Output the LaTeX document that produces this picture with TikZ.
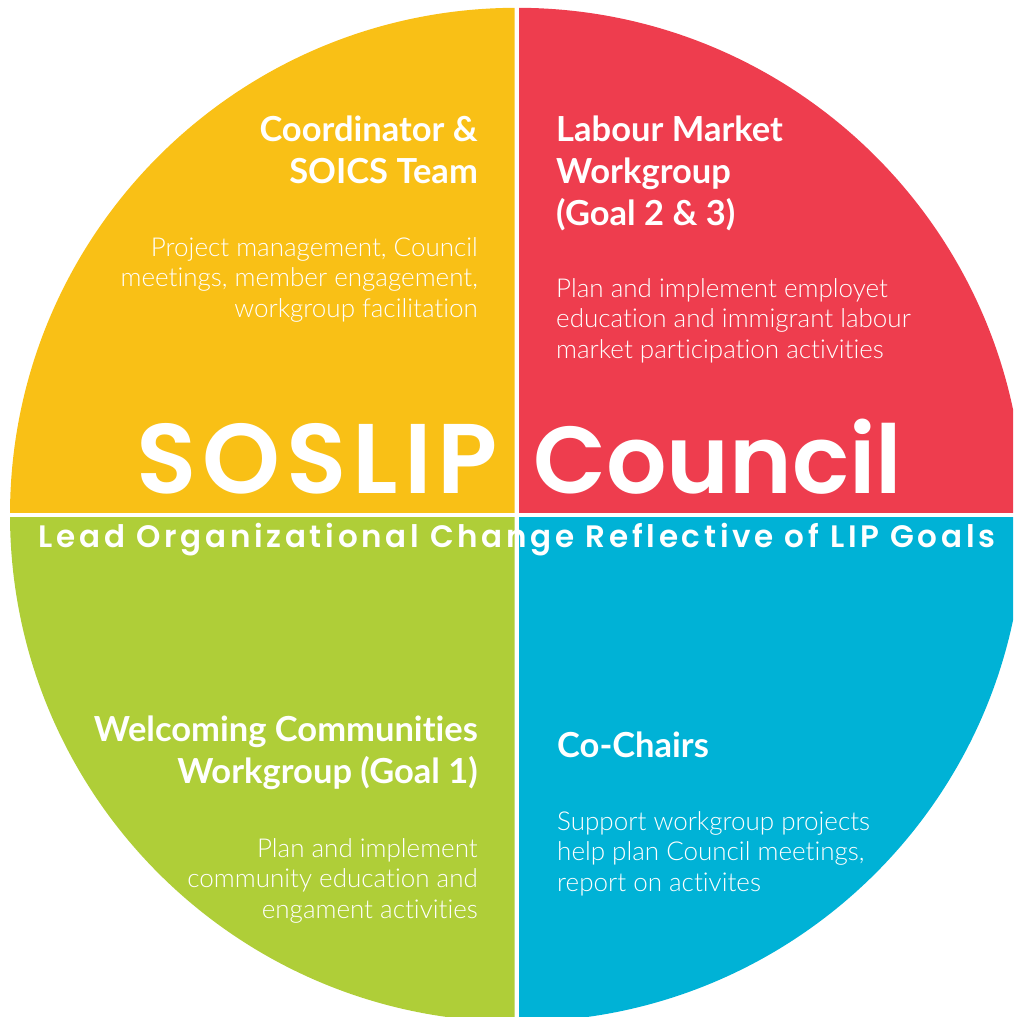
\documentclass[tikz,border=0pt]{standalone}
\usepackage{fontspec}
\setmainfont{Lato}[Ligatures=NoCommon]
\newfontfamily\titlefont{Poppins SemiBold}
\newfontfamily\widetitlefont{Poppins SemiBold}[LetterSpace=6]
\newfontfamily\tagfont{Poppins SemiBold}[LetterSpace=12]
\newfontfamily\lightfont{Lato Light}[Ligatures=NoCommon]
\usetikzlibrary{positioning}
\definecolor{soyellow}{RGB}{249,192,22}
\definecolor{sored}{RGB}{238,61,78}
\definecolor{sogreen}{RGB}{175,206,56}
\definecolor{soblue}{RGB}{0,178,214}

\begin{document}
\begin{tikzpicture}[x=1pt, y=-1pt,
  heading/.style={text=white, inner sep=0pt, font=\bfseries\fontsize{34.5}{42}\selectfont},
  blurb/.style={text=white, inner sep=0pt, font=\lightfont\fontsize{26}{30.5}\selectfont},
  bigword/.style={text=white, inner sep=0pt, font=\titlefont\fontsize{95}{95}\selectfont},
  tagline/.style={text=white, inner sep=0pt, font=\tagfont\fontsize{31}{31}\selectfont}
]
\useasboundingbox (0,0) rectangle (1013,1017);
\coordinate (ctr) at (517,514.8);

%% Four quadrants with a white cross between them
\begin{scope}
  \clip (0,0) rectangle (514.5,512.5);
  \fill[soyellow] (ctr) circle[radius=507];
\end{scope}
\begin{scope}
  \clip (519,0) rectangle (1013,512.5);
  \fill[sored] (ctr) circle[radius=507];
\end{scope}
\begin{scope}
  \clip (0,517) rectangle (514.5,1017);
  \fill[sogreen] (ctr) circle[radius=507];
\end{scope}
\begin{scope}
  \clip (519,517) rectangle (1013,1017);
  \fill[soblue] (ctr) circle[radius=507];
\end{scope}

%% Top left (base anchor sits on the last line)
\node[heading, align=right, anchor=base east] (coordhead) at (478,183)
  {Coordinator \&\\SOICS Team};
\node[blurb, align=right, anchor=base east] (coordtext) at (478,317)
  {Project management, Council\\meetings, member engagement,\\workgroup facilitation};

%% Top right
\node[heading, align=left, anchor=base west] (labourhead) at (556,225)
  {Labour Market\\Workgroup\\(Goal 2 \& 3)};
\node[blurb, align=left, anchor=base west] (labourtext) at (556,358)
  {Plan and implement employet\\education and immigrant labour\\market participation activities};

%% Bottom left
\node[heading, align=right, anchor=base east] (welcomehead) at (478,783)
  {Welcoming Communities\\Workgroup (Goal 1)};
\node[blurb, align=right, anchor=base east] (welcometext) at (478,918)
  {Plan and implement\\community education and\\engament activities};

%% Bottom right
\node[heading, align=left, anchor=base west] (chairhead) at (557,757) {Co-Chairs};
\node[blurb, align=left, anchor=base west] (chairtext) at (557,891)
  {Support workgroup projects\\help plan Council meetings,\\report on activites};

%% Centre title
\node[bigword, font=\widetitlefont\fontsize{99}{99}\selectfont, anchor=base east]
  (soslip) at (498,493) {SOSLIP};
\node[bigword, anchor=base west] (council) at (533,493) {Council};
\node[tagline, anchor=base] (goals) at (517,547)
  {Lead Organizational Change Reflective of LIP Goals};
\end{tikzpicture}
\end{document}
